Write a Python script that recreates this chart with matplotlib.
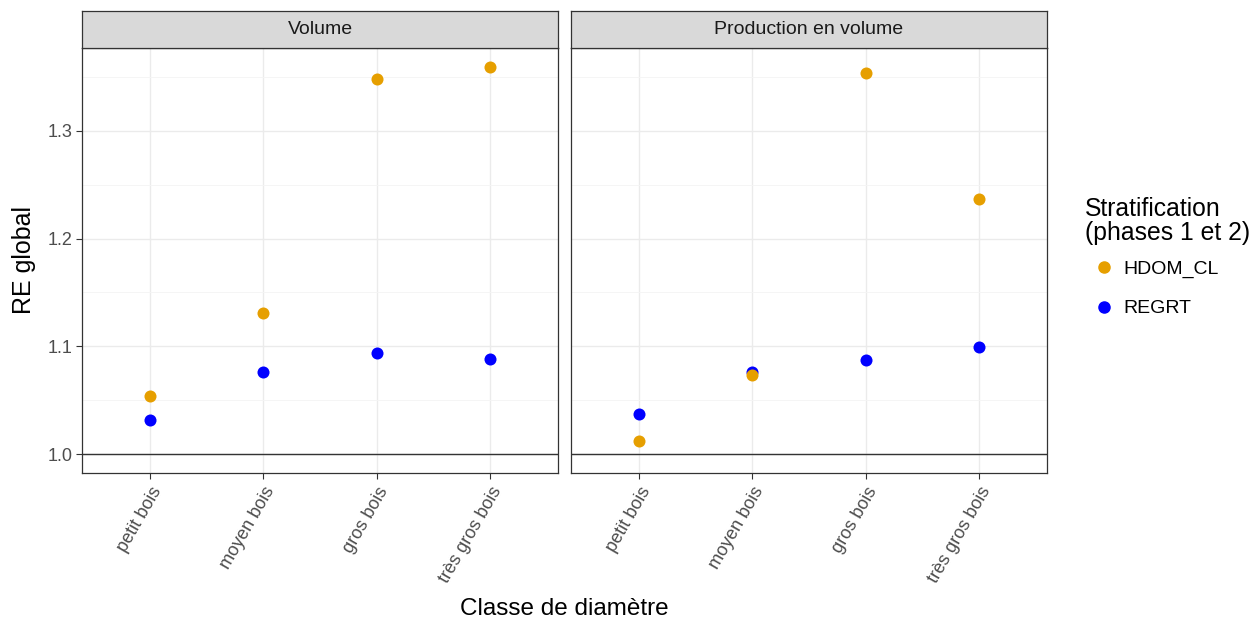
import numpy as np
import matplotlib
matplotlib.use("Agg")
import matplotlib.pyplot as plt
from matplotlib.ticker import MultipleLocator

plt.rcParams['font.family'] = ['Liberation Sans', 'DejaVu Sans']

classes = ["petit bois", "moyen bois", "gros bois", "très gros bois"]
panels = ["Volume", "Production en volume"]

# RE global per diameter class, one list per stratification and panel
hdom_volume = [1.054, 1.131, 1.348, 1.359]
regrt_volume = [1.032, 1.076, 1.094, 1.088]
hdom_prod = [1.012, 1.073, 1.354, 1.237]
regrt_prod = [1.037, 1.076, 1.087, 1.099]

series_names = ["HDOM_CL", "REGRT"]
colors = {"HDOM_CL": "#E69F00", "REGRT": "#0000FF"}

data = {
    "Volume": {"REGRT": regrt_volume, "HDOM_CL": hdom_volume},
    "Production en volume": {"REGRT": regrt_prod, "HDOM_CL": hdom_prod},
}

W, H = 1255, 628
fig = plt.figure(figsize=(W / 100, H / 100), dpi=100)

lefts = [82, 571]
pw = 476
top, bottom = 48, 473
strip_top = 11

x = np.arange(len(classes))
axes = []
for i, name in enumerate(panels):
    ax = fig.add_axes([lefts[i] / W, (H - bottom) / H, pw / W, (bottom - top) / H])
    axes.append(ax)
    ax.set_xlim(-0.6, 3.6)
    ax.set_ylim(0.9824, 1.377)
    ax.yaxis.set_major_locator(MultipleLocator(0.1))
    ax.yaxis.set_minor_locator(MultipleLocator(0.05))
    ax.set_xticks(x)
    ax.set_xticklabels(classes, rotation=60, ha="right", va="top",
                       rotation_mode="anchor", fontsize=13, color="#4d4d4d")
    ax.grid(True, which="major", color="#ebebeb", lw=1.0, zorder=0)
    ax.grid(True, which="minor", axis="y", color="#f4f4f4", lw=0.6, zorder=0)
    ax.set_axisbelow(True)
    ax.tick_params(axis="both", which="major", length=4, width=0.8, color="#333333",
                   labelsize=13, labelcolor="#4d4d4d", pad=3)
    ax.tick_params(axis="x", pad=4)
    ax.tick_params(axis="y", which="minor", length=0)
    if i == 1:
        ax.tick_params(axis="y", labelleft=False, length=0)
    for s in ax.spines.values():
        s.set_color("#333333")
        s.set_linewidth(0.9)
    ax.axhline(1.0, color="#333333", lw=1.0, zorder=1)
    for sname in ["REGRT", "HDOM_CL"]:
        ax.scatter(x, data[name][sname], s=75, color=colors[sname], zorder=3,
                   linewidths=0)

    # facet strip
    sax = fig.add_axes([lefts[i] / W, (H - top) / H, pw / W, (top - strip_top) / H])
    sax.set_facecolor("#d9d9d9")
    sax.set_xticks([])
    sax.set_yticks([])
    for s in sax.spines.values():
        s.set_color("#333333")
        s.set_linewidth(0.9)
    sax.text(0.5, 0.5, name, ha="center", va="center", fontsize=14, color="#1a1a1a",
             transform=sax.transAxes)

axes[0].set_ylabel("RE global", fontsize=18, labelpad=8)
fig.text((82 + 1047) / 2 / W, 1 - 609 / H, "Classe de diamètre", ha="center",
         va="center", fontsize=17.5)

# legend
fig.text(1085 / W, 1 - 221 / H, "Stratification\n(phases 1 et 2)", ha="left",
         va="center", fontsize=17.8, linespacing=1.02)
handles = [plt.Line2D([], [], ls="", marker="o", ms=8, color=colors[n]) for n in series_names]
fig.legend(handles, series_names, loc="center left", bbox_to_anchor=(1094 / W, 1 - 289 / H),
           frameon=False, fontsize=14, handletextpad=0.5, labelspacing=1.1,
           handlelength=1.0, borderaxespad=0, borderpad=0)

fig.savefig("out.png", dpi=100)
